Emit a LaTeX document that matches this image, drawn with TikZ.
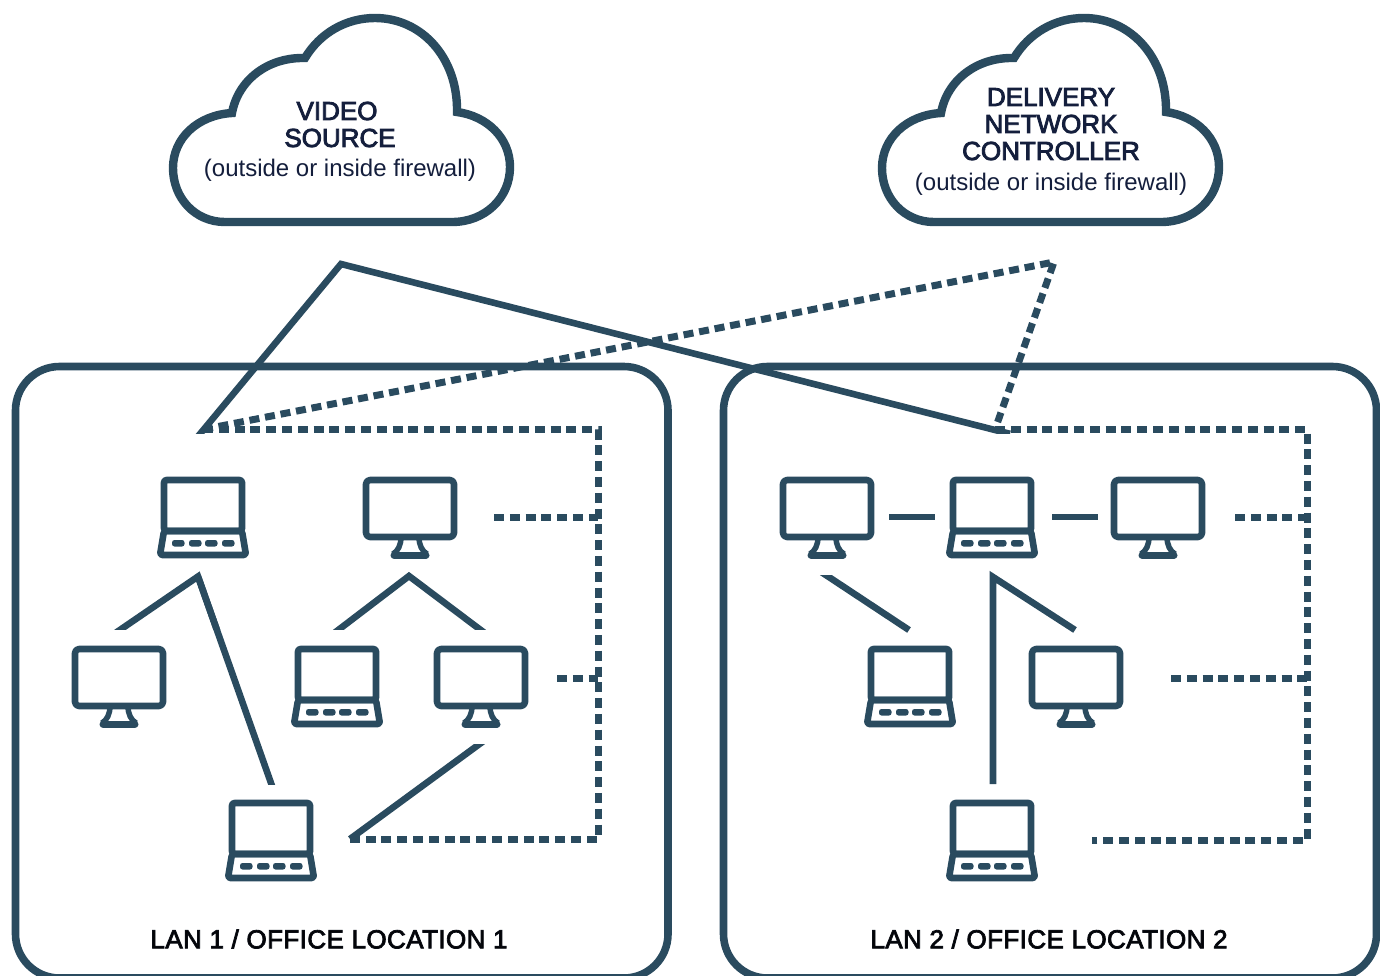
\documentclass[tikz,border=0pt]{standalone}
\usepackage{fontspec}
\setmainfont{Liberation Sans}
\newfontfamily\lanfont[LetterSpace=1.6]{Liberation Sans}
\definecolor{net}{HTML}{2A4B5F}
\definecolor{ink}{HTML}{141E3C}
\newcommand{\semiink}[1]{\special{pdf:code q 2 Tr 0.85 w 0.08 0.12 0.24 RG}#1\special{pdf:code Q}}
\newcommand{\semiblack}[1]{\special{pdf:code q 2 Tr 0.85 w 0.04 0.05 0.08 RG}#1\special{pdf:code Q}}
\tikzset{
  x=1pt,y=-1pt,
  frame/.style={draw=net,line width=7.6pt,rounded corners=44pt},
  cloudline/.style={draw=net,line width=8.4pt,line join=miter,fill=white},
  solidlink/.style={draw=net,line width=6.6pt,line join=miter,miter limit=20},
  dashlink/.style={draw=net,line width=7pt,dash pattern=on 10pt off 5.8pt},
  icon/.style={draw=net,line width=6.6pt,line join=round,rounded corners=2.5pt},
  captitle/.style={font=\fontsize{26}{27}\selectfont,text=ink,align=center,inner sep=0pt},
  subtitle/.style={font=\fontsize{24}{26}\selectfont,text=ink,align=center,inner sep=0pt},
  lanlabel/.style={font=\lanfont\fontsize{26}{28}\selectfont,text=black!90!ink,inner sep=0pt},
  laptop/.pic={
    \draw[icon] (-39,3) rectangle (39,54);
    \draw[icon] (-39,54) -- (39,54) -- (43,78) -- (-43,78) -- cycle;
    \foreach \k in {-31,-14,2,19}
      \fill[net,rounded corners=2.5pt] (\k,63) rectangle ++(12.5,6.5);
  },
  monitor/.pic={
    \draw[icon,rounded corners=4pt] (-44,3) rectangle (44,60);
    \draw[draw=net,line width=5.5pt] (-9,60) .. controls (-9,68) and (-12,74) .. (-17,77);
    \draw[draw=net,line width=5.5pt] (9,60) .. controls (9,68) and (12,74) .. (17,77);
    \draw[draw=net,line width=7pt,line cap=round] (-16,78) -- (16,78);
  },
}
\newcommand{\cloudpath}[1]{%
  \draw[cloudline,shift={(#1,0)}] (225,222) .. controls (195,222) and (173,198) .. (173,168)
    .. controls (173,138) and (198,115) .. (232,113)
    .. controls (238,80) and (268,57) .. (305,58)
    .. controls (320,33) and (346,18) .. (375,18)
    .. controls (422,18) and (458,58) .. (457,112)
    .. controls (487,116) and (510,138) .. (510,167)
    .. controls (510,198) and (485,222) .. (452,222) -- cycle;}
\newcommand{\cutlink}[3]{\begin{scope}\clip (0,#1) rectangle (1380,#2);\draw[solidlink] #3;\end{scope}}
\begin{document}
\begin{tikzpicture}
\useasboundingbox (0,0) rectangle (1380,975);
\clip (0,0) rectangle (1380,975);
% clouds
\cloudpath{0}
\cloudpath{709}
\node[captitle] (vs1) at (337,111) {\semiink{VIDEO}};
\node[captitle] (vs2) at (340,138) {\semiink{SOURCE}};
\node[subtitle] (vs3) at (340,170) {(outside or inside firewall)};
\node[captitle] (dn1) at (1051,97) {\semiink{DELIVERY}};
\node[captitle] (dn2) at (1051,124) {\semiink{NETWORK}};
\node[captitle] (dn3) at (1051,151) {\semiink{CONTROLLER}};
\node[subtitle] (dn4) at (1051,184) {(outside or inside firewall)};
% frames
\draw[frame] (15.5,366.5) rectangle (668,978);
\draw[frame] (723.5,366.5) rectangle (1376.5,978);
\node[lanlabel] (l1) at (329,939) {\semiblack{LAN 1 / OFFICE LOCATION 1}};
\node[lanlabel] (l2) at (1049,939) {\semiblack{LAN 2 / OFFICE LOCATION 2}};
% coordinates
\coordinate (a) at (203,429.5); \coordinate (a1) at (197.5,437);
\coordinate (peak) at (341,264);
\coordinate (b) at (995,429.5); \coordinate (b1) at (1010,433.8);
\coordinate (dnc) at (1054,262);
\coordinate (r1) at (598,429.5); \coordinate (r2) at (598,839); \coordinate (r3) at (350,839);
\coordinate (r4) at (494,517); \coordinate (r5) at (598,517);
\coordinate (r6) at (557,678); \coordinate (r7) at (598,678);
\coordinate (s1) at (1307,429.5); \coordinate (s2) at (1307,840); \coordinate (s3) at (1092,840);
\coordinate (s4) at (1235,517); \coordinate (s5) at (1307,517);
\coordinate (s6) at (1171,678); \coordinate (s7) at (1307,678);
% solid links
\cutlink{0}{433}{(a1) -- (peak) -- (b1)}
\cutlink{560}{629.5}{(114,634) -- (198,576.5) -- (277,800)}
\cutlink{560}{784}{(198,576.5) -- (277,800)}
\cutlink{560}{629.5}{(333,634) -- (409,576) -- (486,634)}
\cutlink{744}{843}{(485,740) -- (r3)}
\draw[solidlink] (889,517) -- (935,517);
\draw[solidlink] (1052,517) -- (1098,517);
\cutlink{575.5}{640}{(819,570.5) -- (909,630)}
\draw[solidlink] (1075,630) -- (993,577) -- (993,784);
% dashed links
\draw[dashlink] (a) -- (dnc) -- (b);
\draw[dashlink] (a) -- (r1) -- (r2) -- (r3);
\draw[dashlink] (r4) -- (r5);
\draw[dashlink] (r6) -- (r7);
\draw[dashlink] (b) -- (s1) -- (s2) -- (s3);
\draw[dashlink] (s4) -- (s5);
\draw[dashlink] (s6) -- (s7);
% icons
\pic at (203,477) {laptop};
\pic at (337,646) {laptop};
\pic at (271,800) {laptop};
\pic at (992,477) {laptop};
\pic at (910,646) {laptop};
\pic at (992,800) {laptop};
\pic at (410,477) {monitor};
\pic at (119,646) {monitor};
\pic at (481,646) {monitor};
\pic at (827,477) {monitor};
\pic at (1158,477) {monitor};
\pic at (1076,646) {monitor};
\end{tikzpicture}
\end{document}
